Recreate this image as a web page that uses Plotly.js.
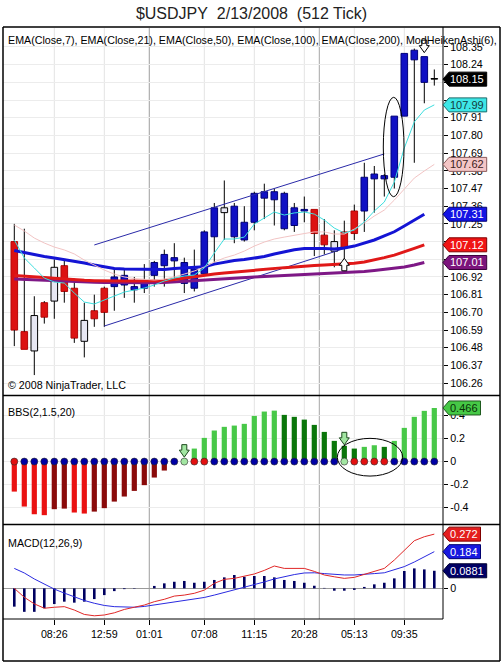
<!DOCTYPE html>
<html><head><meta charset="utf-8">
<script src="https://cdn.plot.ly/plotly-3.0.1.min.js"></script>
<style>html,body{margin:0;padding:0;background:#fff;}#chart{width:503px;height:664px;}</style>
</head><body><div id="chart"></div>
<script>
// ---------- data ----------
const timeLabels = ['08:26','12:59','01:01','07:08','11:15','20:28','05:13','09:35'];
const timeTickPos = [4, 9, 13.5, 19, 24, 29, 34, 39];
const sessionBreaks = [13.5, 30.5];

const haOpen  = [107.14,106.58,106.46,106.76,106.77,106.99,106.85,106.52,106.71,106.85,106.86,106.87,106.84,106.85,106.93,106.99,107.02,106.88,106.85,106.94,107.17,107.32,107.17,107.15,107.26,107.41,107.40,107.22,107.24,107.33,107.34,107.18,107.08,107.20,107.33,107.33,107.53,107.53,107.54,107.92,108.27,108.29,108.15];
const haHigh  = [107.25,107.22,106.80,106.77,107.03,107.03,106.91,106.76,106.81,106.86,106.97,106.97,106.92,107.00,107.02,107.09,107.13,107.04,107.09,107.21,107.38,107.52,107.38,107.36,107.45,107.50,107.47,107.45,107.38,107.42,107.34,107.28,107.21,107.27,107.37,107.63,107.61,107.56,107.92,108.31,108.34,108.29,108.21];
const haLow   = [106.49,106.47,106.31,106.63,106.66,106.76,106.51,106.42,106.61,106.61,106.71,106.79,106.76,106.82,106.86,106.86,106.90,106.82,106.83,106.94,107.01,107.15,107.13,107.14,107.21,107.28,107.24,107.21,107.20,107.26,107.05,107.06,106.98,107.03,107.15,107.20,107.32,107.42,107.47,107.92,107.63,108.00,108.11];
const haClose = [106.59,106.47,106.68,106.67,106.98,106.83,106.54,106.65,106.66,106.70,106.92,106.93,106.86,106.88,107.01,107.06,107.04,107.01,106.97,107.20,107.35,107.35,107.36,107.26,107.44,107.45,107.45,107.44,107.35,107.34,107.19,107.12,107.14,107.10,107.19,107.54,107.56,107.55,107.92,108.31,108.33,108.13,108.15];
const haColor = ['R','R','W','R','W','R','R','W','R','R','B','B','B','B','B','B','B','B','B','B','B','W','B','B','B','B','B','B','B','B','R','R','W','R','R','B','B','B','B','B','B','B','K'];

const ema7   = [107.15,107.038,106.976,106.913,106.889,106.882,106.82,106.764,106.752,106.777,106.801,106.826,106.839,106.851,106.87,106.895,106.913,106.926,106.932,106.976,107.069,107.156,107.156,107.168,107.249,107.287,107.324,107.305,107.318,107.324,107.311,107.274,107.224,107.193,107.212,107.262,107.33,107.386,107.51,107.722,107.884,107.958,107.99];
const ema21  = [107.243,107.206,107.162,107.131,107.106,107.088,107.063,107.025,106.994,106.963,106.938,106.92,106.91,106.904,106.901,106.907,106.92,106.938,106.957,106.982,107.013,107.038,107.056,107.081,107.112,107.137,107.156,107.168,107.181,107.19,107.2,107.2,107.187,107.187,107.218,107.255,107.299,107.336,107.398,107.467,107.535,107.579,107.62];
const ema50  = [107.084,107.072,107.056,107.047,107.038,107.028,107.019,107.007,106.994,106.982,106.972,106.969,106.968,106.966,106.964,106.966,106.972,106.976,106.979,106.984,107.0,107.013,107.022,107.028,107.036,107.047,107.063,107.078,107.089,107.097,107.098,107.097,107.094,107.10,107.112,107.131,107.15,107.175,107.201,107.237,107.274,107.31];
const ema100 = [106.929,106.926,106.922,106.917,106.912,106.907,106.903,106.899,106.897,106.895,106.895,106.895,106.895,106.895,106.895,106.897,106.904,106.913,106.923,106.932,106.938,106.945,106.951,106.957,106.963,106.968,106.972,106.978,106.982,106.988,106.991,106.994,106.997,107.0,107.005,107.013,107.025,107.04,107.056,107.075,107.098,107.12];
const ema200 = [106.907,106.904,106.901,106.898,106.895,106.893,106.89,106.889,106.887,106.885,106.884,106.884,106.884,106.884,106.884,106.885,106.889,106.893,106.898,106.904,106.907,106.91,106.913,106.917,106.92,106.923,106.926,106.929,106.932,106.936,106.938,106.94,106.943,106.945,106.949,106.954,106.96,106.966,106.974,106.982,106.994,107.01];

const channelUpperX = [8, 37];   const channelUpperY = [107.119, 107.685];
const channelLowerX = [9, 33];   const channelLowerY = [106.615, 107.097];
const mainDownSignals = [41];
const mainUpSignals = [33];

const bbsVal = [-0.261,-0.391,-0.458,-0.466,-0.414,-0.409,-0.443,-0.452,-0.435,-0.405,-0.348,-0.304,-0.255,-0.205,-0.139,-0.078,0,0,0.113,0.206,0.27,0.302,0.313,0.328,0.397,0.435,0.443,0.406,0.389,0.365,0.319,0.258,0.18,0.137,0.113,0.128,0.142,0.128,0.18,0.293,0.389,0.441,0.466];
const bbsBarColor = ['R','R','R','R','D','D','R','R','D','D','D','D','D','D','D','D','D','G','G','G','G','G','G','G','G','G','G','E','E','E','E','E','E','E','E','G','G','E','G','G','G','G','G'];
const bbsDotColor = ['R','B','B','B','B','B','B','B','B','B','B','B','B','B','B','B','B','L','R','R','B','B','B','B','B','B','B','B','B','B','B','B','B','L','R','R','R','R','B','B','B','B','B'];
const bbsDownSignals = [17, 33];

const macdHist = [-0.092,-0.118,-0.118,-0.10,-0.079,-0.067,-0.072,-0.067,-0.054,-0.034,-0.014,-0.004,-0.002,0.0,0.012,0.025,0.033,0.037,0.028,0.033,0.042,0.055,0.067,0.058,0.062,0.062,0.055,0.042,0.037,0.028,0.013,0.002,-0.012,-0.012,-0.008,0.007,0.02,0.028,0.05,0.087,0.10,0.095,0.0881];
const macdLine = [0.0,-0.045,-0.078,-0.10,-0.095,-0.092,-0.109,-0.131,-0.138,-0.134,-0.123,-0.106,-0.095,-0.084,-0.067,-0.055,-0.039,-0.034,-0.025,-0.009,0.025,0.045,0.05,0.062,0.072,0.09,0.112,0.10,0.10,0.10,0.085,0.067,0.058,0.05,0.055,0.07,0.085,0.10,0.142,0.192,0.239,0.259,0.272];
const macdAvg  = [0.10,0.077,0.047,0.022,-0.004,-0.024,-0.044,-0.061,-0.075,-0.086,-0.092,-0.095,-0.095,-0.091,-0.084,-0.076,-0.067,-0.061,-0.055,-0.046,-0.034,-0.021,-0.009,0.004,0.017,0.032,0.047,0.059,0.069,0.077,0.078,0.074,0.069,0.067,0.067,0.069,0.074,0.078,0.092,0.109,0.132,0.157,0.184];

const mainTicks = [108.35,108.24,108.13,108.02,107.91,107.80,107.69,107.58,107.47,107.36,107.25,107.14,107.03,106.92,106.81,106.70,106.59,106.48,106.37,106.26];
// labels hidden behind the value tags in the reference
const mainTickText = ['108.35','108.24','','','107.91','107.80','107.69','107.58','107.47','107.36','107.25','','','106.92','106.81','106.70','106.59','106.48','106.37','106.26'];
const bbsTicks = [0.4,0.2,0,-0.2,-0.4];
const bbsTickText = ['0.4','0.2','0','-0.2','-0.4'];

// ---------- build ----------
const FONT = 'Arial, "Liberation Sans", sans-serif';
const N = haOpen.length;
const idx = Array.from({length:N}, (_, i) => i);
const bodyFill = {R:'#dc1212', B:'#1010c4', W:'#e6e6f2', K:'#000000'};
const bodyEdge = {R:'#b40808', B:'#00007a', W:'#000000', K:'#000000'};
const bbsFill = {R:'#ea1212', D:'#8a0a0a', G:'#48c848', E:'#0a760a'};
const dotFill = {R:'#e21010', B:'#0000a4', L:'#a2e6a2'};

const bodyBase = idx.map(i => Math.min(haOpen[i], haClose[i]));
const bodyLen = idx.map(i => Math.max(Math.abs(haClose[i] - haOpen[i]), 0.004));
const wx = [], wy = [];
idx.forEach(i => {
  const top = Math.max(haOpen[i], haClose[i]), bot = Math.min(haOpen[i], haClose[i]);
  if (haHigh[i] > top) { wx.push(i, i, null); wy.push(haHigh[i], top, null); }
  if (haLow[i] < bot) { wx.push(i, i, null); wy.push(bot, haLow[i], null); }
});

const traces = [];
traces.push({type:'scatter', mode:'lines', x:wx, y:wy, line:{color:'#000', width:1}, xaxis:'x', yaxis:'y', hoverinfo:'skip'});
traces.push({type:'bar', x:idx, base:bodyBase, y:bodyLen, width:0.66,
  marker:{color:haColor.map(c => bodyFill[c]), line:{color:haColor.map(c => bodyEdge[c]), width:1}},
  xaxis:'x', yaxis:'y', hoverinfo:'skip'});
traces.push({type:'scatter', mode:'lines', x:channelUpperX, y:channelUpperY, line:{color:'#2a2aa8', width:1}, xaxis:'x', yaxis:'y'});
traces.push({type:'scatter', mode:'lines', x:channelLowerX, y:channelLowerY, line:{color:'#2a2aa8', width:1}, xaxis:'x', yaxis:'y'});
const emaSpecs = [
  {v:ema200, c:'#7e1886', w:3},
  {v:ema100, c:'#e01818', w:3},
  {v:ema50,  c:'#1414d4', w:3},
  {v:ema21,  c:'#f2c4c4', w:1},
  {v:ema7,   c:'#3cdede', w:1},
];
emaSpecs.forEach(s => traces.push({type:'scatter', mode:'lines', x:idx.slice(0, s.v.length), y:s.v, line:{color:s.c, width:s.w}, xaxis:'x', yaxis:'y'}));

// BBS
traces.push({type:'bar', x:idx, y:bbsVal, width:0.52, marker:{color:bbsBarColor.map(c => bbsFill[c]), line:{width:0}}, xaxis:'x', yaxis:'y2'});
traces.push({type:'scatter', mode:'markers', x:idx, y:idx.map(() => 0),
  marker:{size:7, color:bbsDotColor.map(c => dotFill[c]), line:{color:'#2a2a2a', width:0.6}}, xaxis:'x', yaxis:'y2'});

// MACD
traces.push({type:'bar', x:idx, y:macdHist, width:0.26, marker:{color:'#000060', line:{width:0}}, xaxis:'x', yaxis:'y3'});
traces.push({type:'scatter', mode:'lines', x:idx, y:macdAvg, line:{color:'#2a2ae0', width:1}, xaxis:'x', yaxis:'y3'});
traces.push({type:'scatter', mode:'lines', x:idx, y:macdLine, line:{color:'#e02626', width:1}, xaxis:'x', yaxis:'y3'});

// ---------- layout helpers ----------
const shapes = [], annotations = [];
const pyToPaper = py => (619 - py) / 591;
const pxToPaper = px => (px - 3) / 440;

timeTickPos.forEach(t => shapes.push({type:'line', xref:'x', yref:'paper', x0:t, x1:t, y0:0, y1:1, line:{color:'#e3e3e3', width:1}, layer:'below'}));
sessionBreaks.forEach(t => shapes.push({type:'line', xref:'x', yref:'paper', x0:t, x1:t, y0:0, y1:1, line:{color:'#a6a6a6', width:1}, layer:'below'}));

// ellipses
shapes.push({type:'circle', xref:'x', yref:'y', x0:36.9, x1:38.97, y0:107.419, y1:108.037, line:{color:'#000', width:1}});
shapes.push({type:'circle', xref:'x', yref:'y2', x0:32.3, x1:38.84, y0:-0.126, y1:0.202, line:{color:'#000', width:1}});

// arrows
const downPath = off => `M-2.5,${6.5+off} L2.5,${6.5+off} L2.5,${1+off} L5,${1+off} L0,${-6+off} L-5,${1+off} L-2.5,${1+off} Z`;
const upPath = off => `M-2.5,${-6.5+off} L2.5,${-6.5+off} L2.5,${-1+off} L5,${-1+off} L0,${6+off} L-5,${-1+off} L-2.5,${-1+off} Z`;
mainDownSignals.forEach(i => shapes.push({type:'path', xref:'x', yref:'y', xsizemode:'pixel', ysizemode:'pixel', xanchor:i, yanchor:haHigh[i], path:downPath(10), fillcolor:'#ffffff', line:{color:'#000', width:1}}));
mainUpSignals.forEach(i => shapes.push({type:'path', xref:'x', yref:'y', xsizemode:'pixel', ysizemode:'pixel', xanchor:i, yanchor:haLow[i], path:upPath(-5), fillcolor:'#ffffff', line:{color:'#000', width:1}}));
bbsDownSignals.forEach(i => shapes.push({type:'path', xref:'x', yref:'y2', xsizemode:'pixel', ysizemode:'pixel', xanchor:i, yanchor:Math.max(bbsVal[i], 0.03), path:downPath(7), fillcolor:'#a2e6a2', line:{color:'#1e4a1e', width:1}}));

// frame
const right = pxToPaper(500);
[[27],[395.5],[524.5],[661]].forEach(([py]) => shapes.push({type:'line', xref:'paper', yref:'paper', x0:0, x1:right, y0:pyToPaper(py), y1:pyToPaper(py), line:{color:'#000', width:1.5}}));
shapes.push({type:'line', xref:'paper', yref:'paper', x0:0, x1:0, y0:pyToPaper(27), y1:pyToPaper(661), line:{color:'#000', width:1.5}});
shapes.push({type:'line', xref:'paper', yref:'paper', x0:right, x1:right, y0:pyToPaper(27), y1:pyToPaper(661), line:{color:'#000', width:1.5}});
shapes.push({type:'line', xref:'paper', yref:'paper', x0:1, x1:1, y0:0, y1:pyToPaper(27), line:{color:'#000', width:1}});
shapes.push({type:'line', xref:'paper', yref:'paper', x0:0, x1:1, y0:0, y1:0, line:{color:'#000', width:1}});

// value tags
function addTag(yref, val, label, fill, txt, edge) {
  const digits = label.replace(/[^0-9]/g, '').length, others = label.length - digits;
  const tw = digits * 6.12 + others * 3.06;
  const w = 6 + tw + 4;
  shapes.push({type:'path', xref:'paper', yref:yref, xsizemode:'pixel', ysizemode:'pixel', xanchor:1, yanchor:val,
    path:`M0,0 L6,7 L${w.toFixed(1)},7 L${w.toFixed(1)},-7 L6,-7 Z`, fillcolor:fill, line:{color:edge, width:1}, layer:'above'});
  annotations.push({xref:'paper', yref:yref, x:1, y:val, xanchor:'center', yanchor:'middle', xshift: 7 + tw/2,
    text:label, showarrow:false, font:{family:FONT, size:11, color:txt}});
}
const last = a => a[a.length - 1];
addTag('y', last(haClose), last(haClose).toFixed(2), '#000000', '#ffffff', '#000000');
addTag('y', last(ema7), last(ema7).toFixed(2), '#3ee6e6', '#123c3c', '#1a6a6a');
addTag('y', last(ema21), last(ema21).toFixed(2), '#f4c6c6', '#3c1c1c', '#8a5a5a');
addTag('y', last(ema50), last(ema50).toFixed(2), '#1414e4', '#ffffff', '#000070');
addTag('y', last(ema100), last(ema100).toFixed(2), '#f01414', '#ffffff', '#800000');
addTag('y', last(ema200), last(ema200).toFixed(2), '#7c147c', '#ffffff', '#3a003a');
addTag('y2', last(bbsVal), last(bbsVal).toFixed(3), '#46c846', '#063006', '#1e5a1e');
addTag('y3', last(macdLine), last(macdLine).toFixed(3), '#e41e1e', '#ffffff', '#800000');
addTag('y3', last(macdAvg), last(macdAvg).toFixed(3), '#1818e0', '#ffffff', '#000070');
addTag('y3', last(macdHist), last(macdHist).toFixed(4), '#000066', '#ffffff', '#000030');

// labels
const small = {family:FONT, size:10.7, color:'#000'};
annotations.push({xref:'paper', yref:'paper', x:pxToPaper(6), y:pyToPaper(40), xanchor:'left', yanchor:'middle', showarrow:false, font:small,
  text:'EMA(Close,7), EMA(Close,21), EMA(Close,50), EMA(Close,100), EMA(Close,200), ModHeikenAshi(6),'});
annotations.push({xref:'paper', yref:'paper', x:pxToPaper(6), y:pyToPaper(385), xanchor:'left', yanchor:'middle', showarrow:false, font:small, text:'© 2008 NinjaTrader, LLC'});
annotations.push({xref:'paper', yref:'paper', x:pxToPaper(6), y:pyToPaper(412), xanchor:'left', yanchor:'middle', showarrow:false, font:small, text:'BBS(2,1.5,20)'});
annotations.push({xref:'paper', yref:'paper', x:pxToPaper(6), y:pyToPaper(543), xanchor:'left', yanchor:'middle', showarrow:false, font:small, text:'MACD(12,26,9)'});

const tickFont = {family:FONT, size:10.7, color:'#000'};
const layout = {
  width:503, height:664,
  margin:{l:3, r:60, t:28, b:45, pad:0},
  paper_bgcolor:'#fff', plot_bgcolor:'#fff',
  showlegend:false, barmode:'overlay',
  title:{text:'$USDJPY\u00a0\u00a02/13/2008\u00a0\u00a0(512 Tick)', x:0.5, xanchor:'center', y:1 - 13/664, yanchor:'middle',
    font:{family:FONT, size:16, color:'#222'}},
  xaxis:{domain:[0,1], range:[-1.13, 42.87], anchor:'y3', tickvals:timeTickPos, ticktext:timeLabels,
    ticks:'outside', ticklen:5, tickcolor:'#000', showgrid:false, zeroline:false, showline:false, tickfont:tickFont},
  yaxis:{domain:[0.379, 1], range:[106.186, 108.468], anchor:'x', side:'right', tickvals:mainTicks, ticktext:mainTickText,
    ticks:'outside', ticklen:4, tickcolor:'#000', gridcolor:'#ececec', zeroline:false, showline:false, tickfont:tickFont},
  yaxis2:{domain:[0.1607, 0.3773], range:[-0.543, 0.57], anchor:'x', side:'right', tickvals:bbsTicks, ticktext:bbsTickText,
    ticks:'outside', ticklen:4, tickcolor:'#000', gridcolor:'#ececec', zeroline:false, showline:false, tickfont:tickFont},
  yaxis3:{domain:[0, 0.1591], range:[-0.154, 0.318], anchor:'x', side:'right', tickvals:[0], ticktext:['0'],
    ticks:'outside', ticklen:4, tickcolor:'#000', showgrid:false, zeroline:true, zerolinecolor:'#9a9a9a', zerolinewidth:1, showline:false, tickfont:tickFont},
  shapes:shapes, annotations:annotations,
};
Plotly.newPlot('chart', traces, layout, {displayModeBar:false, staticPlot:true});
</script>
</body></html>
